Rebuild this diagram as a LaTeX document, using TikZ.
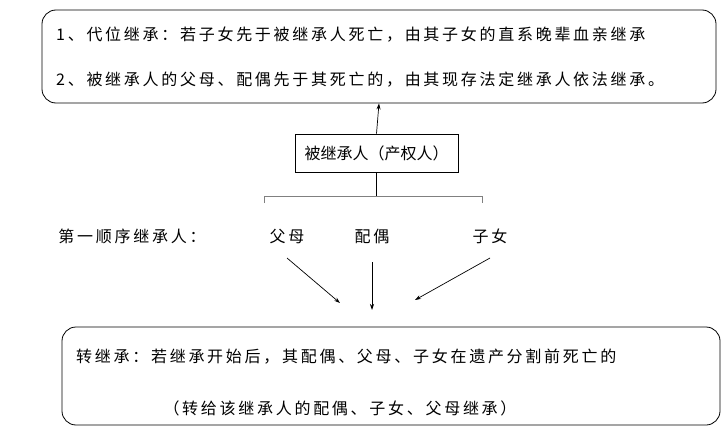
\documentclass[tikz,border=0pt]{standalone}
\usepackage{fontspec}
\setmainfont{Noto Sans CJK SC}
\usetikzlibrary{arrows.meta}
\begin{document}
\begin{tikzpicture}[x=1pt,y=-1pt,
  txt/.style={font=\fontsize{16}{18}\selectfont\addfontfeature{LetterSpace=17},inner sep=0pt},
  ctxt/.style={font=\fontsize{16}{18}\selectfont,inner sep=0pt},
  rbox/.style={draw,rounded corners=14pt,line width=0.8pt},
  arr/.style={-{Stealth[length=6pt,width=4pt]},line width=0.7pt}]
\useasboundingbox (0,0) rectangle (724,447);
\node[rbox,minimum width=674,minimum height=93] (top) at (379,56.5) {};
\node[txt,anchor=west] (t1) at (56,35) {1、代位继承：若子女先于被继承人死亡，由其子女的直系晚辈血亲继承};
\node[txt,anchor=west] (t2) at (56,80) {2、被继承人的父母、配偶先于其死亡的，由其现存法定继承人依法继承。};
\node[draw,line width=0.8pt,minimum width=163,minimum height=38,ctxt] (c) at (376.5,153) {被继承人（产权人）};
\draw[arr] (c.north) -- (top.south);
\coordinate (b) at (376.5,196);
\draw[line width=0.6pt] (c.south) -- (b);
\draw[gray,line width=0.8pt] (264,203) -- (264,196) -- (482,196) -- (482,203);
\node[txt] (l) at (132,236) {第一顺序继承人：};
\node[txt] (f) at (287,236) {父母};
\node[txt] (p) at (372,236) {配偶};
\node[txt] (z) at (490,236) {子女};
\coordinate (a1) at (340,303);
\coordinate (a2) at (372,310);
\coordinate (a3) at (415,300);
\draw[arr] (287,258) -- (a1);
\draw[arr] (372,262) -- (a2);
\draw[arr] (490,258) -- (a3);
\node[rbox,minimum width=658,minimum height=98] (bot) at (391,376) {};
\node[txt,anchor=west] (b1) at (76,357) {转继承：若继承开始后，其配偶、父母、子女在遗产分割前死亡的};
\node[txt] (b2) at (340,408) {（转给该继承人的配偶、子女、父母继承）};
\end{tikzpicture}
\end{document}
